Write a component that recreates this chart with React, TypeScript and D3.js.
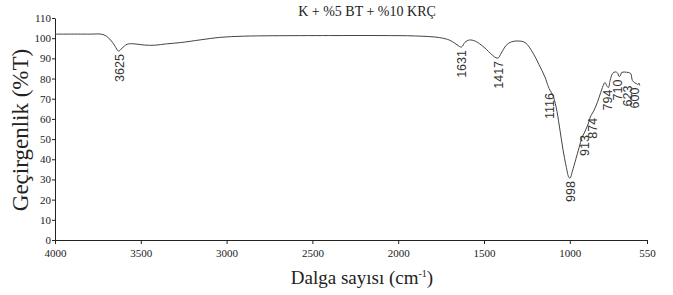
import React, { useEffect, useRef } from 'react';
import * as d3 from 'd3';

// spectrum (wavenumber cm-1, %T)
const waveNumbers = [
  4000, 3800, 3720, 3680, 3650, 3630, 3610, 3580, 3540, 3480, 3420, 3350, 3270, 3150, 3040,
  2900, 2730, 2400, 2100, 1900, 1760, 1700, 1670, 1645, 1631, 1610, 1585, 1550, 1500, 1450,
  1430, 1417, 1400, 1370, 1340, 1300, 1260, 1214, 1180, 1145, 1125, 1116, 1100, 1080, 1060,
  1040, 1020, 1005, 998, 985, 965, 945, 930, 913, 895, 880, 874, 860, 840, 820, 800, 794,
  785, 775, 765, 750, 735, 722, 712, 705, 698, 680, 660, 645, 635, 623, 612, 603, 597, 592,
];
const transmittance = [
  102, 102, 101.8, 99.5, 96, 93.6, 95, 97, 97.2, 96.6, 96.5, 97.2, 97.8, 99.2, 100.4,
  101, 101.2, 101.3, 101.3, 101.1, 100.3, 99, 97.5, 96, 95.6, 98, 99.1, 98.5, 95.5, 91.5,
  90.3, 90.2, 92.5, 96.5, 98.2, 98.6, 97.8, 92.6, 87, 80.8, 76, 74.3, 72, 66, 56,
  45, 36, 31, 30.7, 34, 40, 46, 50.5, 53.5, 57, 61, 62, 64, 68, 73, 77.5, 78,
  76.5, 75.5, 79, 82.6, 83.3, 82.8, 81, 81.5, 83, 83.2, 83, 82.5, 79, 78, 77.5, 77, 77.8, 76.5,
];

const peakLabels = ['3625', '1631', '1417', '1116', '998', '913', '874', '794', '710', '623', '600'];
const peakWaveNumbers = [3625, 1631, 1417, 1116, 998, 913, 874, 794, 710, 623, 600];
const peakValues = [93.6, 95.6, 90.2, 74.3, 30.7, 53.5, 62, 76, 81, 78, 77];

const xTicks = [4000, 3500, 3000, 2500, 2000, 1500, 1000, 550];
const yTicks = [0, 10, 20, 30, 40, 50, 60, 70, 80, 90, 100, 110];

const title = 'K + %5 BT + %10 KRÇ';

const App: React.FC = () => {
  const ref = useRef<HTMLDivElement>(null);

  useEffect(() => {
    if (!ref.current) return;
    document.body.style.margin = '0';
    const width = 673;
    const height = 295;
    const margin = { top: 18, right: 26, bottom: 55, left: 55 };

    d3.select(ref.current).select('svg').remove();
    const svg = d3
      .select(ref.current)
      .append('svg')
      .attr('width', width)
      .attr('height', height)
      .style('display', 'block')
      .style('background', '#fff');

    const x = d3
      .scaleLinear()
      .domain([4000, 550])
      .range([margin.left, width - margin.right]);
    const y = d3
      .scaleLinear()
      .domain([0, 110])
      .range([height - margin.bottom, margin.top]);

    const serif = '"Liberation Serif", "Times New Roman", serif';
    const sans = '"Liberation Sans", Arial, sans-serif';

    // axes
    const xAxis = svg
      .append('g')
      .attr('transform', `translate(0,${height - margin.bottom})`)
      .call(d3.axisBottom(x).tickValues(xTicks).tickSize(4).tickSizeOuter(0).tickFormat(d3.format('d')));
    const yAxis = svg
      .append('g')
      .attr('transform', `translate(${margin.left},0)`)
      .call(d3.axisLeft(y).tickValues(yTicks).tickSize(3).tickSizeOuter(0));

    [xAxis, yAxis].forEach((g) => {
      g.select('.domain').attr('stroke', '#222').attr('stroke-width', 1);
      g.selectAll('.tick line').attr('stroke', '#222');
      g.selectAll('.tick text')
        .attr('fill', '#222')
        .style('font-family', serif)
        .style('font-size', '11px');
    });
    xAxis.selectAll('.tick text').attr('dy', '0.9em');
    yAxis.selectAll('.tick text').attr('x', -4);

    // spectrum
    const pts: [number, number][] = waveNumbers.map((w, i) => [w, transmittance[i]]);
    const line = d3
      .line<[number, number]>()
      .x((d) => x(d[0]))
      .y((d) => y(d[1]))
      .curve(d3.curveCatmullRom.alpha(0.5));
    svg
      .append('path')
      .datum(pts)
      .attr('d', line)
      .attr('fill', 'none')
      .attr('stroke', '#444')
      .attr('stroke-width', 1);

    // peak labels
    const nudge: Record<string, number> = { '623': -7, '600': -4, '710': -1.5, '794': 2, '874': 1.5 };
    svg
      .append('g')
      .selectAll('text')
      .data(peakLabels)
      .enter()
      .append('text')
      .attr('transform', (d, i) => {
        const px = x(peakWaveNumbers[i]) + (nudge[d] || 0);
        const py = y(peakValues[i]) + 3;
        return `translate(${px},${py}) rotate(-90)`;
      })
      .attr('text-anchor', 'end')
      .attr('dy', '0.35em')
      .attr('fill', '#333')
      .style('font-family', sans)
      .style('font-size', '12.5px')
      .text((d) => d);

    // title
    svg
      .append('text')
      .attr('x', 367)
      .attr('y', 16)
      .attr('text-anchor', 'middle')
      .attr('fill', '#222')
      .style('font-family', serif)
      .style('font-size', '14px')
      .text(title);

    // axis titles
    const xl = svg
      .append('text')
      .attr('x', 362)
      .attr('y', 284)
      .attr('text-anchor', 'middle')
      .attr('fill', '#222')
      .style('font-family', serif)
      .style('font-size', '19px');
    xl.append('tspan').text('Dalga sayısı (cm');
    xl.append('tspan').attr('dy', -7).style('font-size', '10px').text('-1');
    xl.append('tspan').attr('dy', 7).text(')');

    svg
      .append('text')
      .attr('transform', `translate(28,130) rotate(-90)`)
      .attr('text-anchor', 'middle')
      .attr('fill', '#222')
      .style('font-family', serif)
      .style('font-size', '23px')
      .text('Geçirgenlik (%T)');
  }, []);

  return <div ref={ref}></div>;
};

export default App;
